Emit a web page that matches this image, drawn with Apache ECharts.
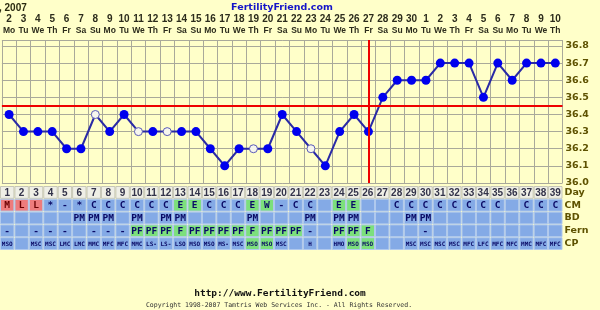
<!DOCTYPE html>
<html><head><meta charset="utf-8">
<script src="https://cdn.jsdelivr.net/npm/echarts@6/dist/echarts.min.js"></script>
<style>html,body{margin:0;padding:0;background:#ffffc9}#c{width:600px;height:310px}</style>
</head><body><div id="c"></div>
<script>
const days = ['1','2','3','4','5','6','7','8','9','10','11','12','13','14','15','16','17','18','19','20','21','22','23','24','25','26','27','28','29','30','31','32','33','34','35','36','37','38','39'];
const dates = ['2','3','4','5','6','7','8','9','10','11','12','13','14','15','16','17','18','19','20','21','22','23','24','25','26','27','28','29','30','1','2','3','4','5','6','7','8','9','10'];
const weekdays = ['Mo','Tu','We','Th','Fr','Sa','Su','Mo','Tu','We','Th','Fr','Sa','Su','Mo','Tu','We','Th','Fr','Sa','Su','Mo','Tu','We','Th','Fr','Sa','Su','Mo','Tu','We','Th','Fr','Sa','Su','Mo','Tu','We','Th'];
const temps = [36.4,36.3,36.3,36.3,36.2,36.2,36.4,36.3,36.4,36.3,36.3,36.3,36.3,36.3,36.2,36.1,36.2,36.2,36.2,36.4,36.3,36.2,36.1,36.3,36.4,36.3,36.5,36.6,36.6,36.6,36.7,36.7,36.7,36.5,36.7,36.6,36.7,36.7,36.7];
const openDays = ['7','10','12','18','22'];
const coverline = 36.45;
const ovulationDay = '26';
const tempTicks = ['36.0','36.1','36.2','36.3','36.4','36.5','36.6','36.7','36.8'];
const rowNames = ['Day','CM','BD','Fern','CP'];
const cm = ['M','L','L','*','-','*','C','C','C','C','C','C','E','E','C','C','C','E','W','-','C','C','','E','E','','','C','C','C','C','C','C','C','C','','C','C','C'];
const bd = ['','','','','','PM','PM','PM','','PM','','PM','PM','','','','','PM','','','','PM','','PM','PM','','','','PM','PM','','','','','','','','',''];
const fern = ['-','','-','-','-','','-','-','-','PF','PF','PF','F','PF','PF','PF','PF','F','PF','PF','PF','-','','PF','PF','F','','','','-','','','','','','','','',''];
const cp = ['MSO','','MSC','MSC','LMC','LMC','MMC','MFC','MFC','MMC','LS-','LS-','LSO','MSO','MSO','MS-','MSC','MSO','MSO','MSC','','H','','HMO','MSO','MSO','','','MSC','MSC','MSC','MSC','MFC','LFC','MFC','MFC','MMC','MFC','MFC'];
const cpHighlight = ['18','19','25','26'];

const rows = [days, cm, bd, fern, cp];
const RED = '#ee7c7c', GREEN = '#7ce07c', BLUE = '#84aae6';
function cellInfo(r, i) {
  const t = rows[r][i];
  let fill = BLUE, stroke = '#b0c9ee', color = '#0a0a66';
  let font = 'bold 9.5px "DejaVu Sans Mono"';
  if (r === 0) { fill = '#efefe6'; stroke = '#c6c6b8'; color = '#33334a'; font = 'bold 10px "Liberation Sans"'; }
  if (r === 1) {
    if (t === 'M' || t === 'L') { fill = RED; color = '#6a0000'; }
    if (t === 'E' || t === 'W') { fill = GREEN; }
  }
  if (r === 3 && (t === 'PF' || t === 'F')) fill = GREEN;
  if (r === 4) { font = 'bold 6px "DejaVu Sans Mono"'; if (cpHighlight.indexOf(days[i]) >= 0) fill = GREEN; }
  return {text: t, fill, stroke, color, font};
}
const cellData = [];
for (let r = 0; r < rows.length; r++) for (let i = 0; i < days.length; i++) cellData.push([i, r]);

const tempData = temps.map((t, i) => openDays.indexOf(days[i]) >= 0
  ? {value: t, symbolSize: 8, itemStyle: {color: '#f6f6ee', borderColor: '#5a5ab8', borderWidth: 1}}
  : t);

const olive = '#5e5200';
const chart = echarts.init(document.getElementById('c'));
chart.setOption({
  backgroundColor: '#ffffc9',
  animation: false,
  title: [
    {text: ', 2007', left: -1, top: 3, padding: 0, textStyle: {fontFamily: 'Liberation Sans', fontWeight: 'bold', fontSize: 10, color: '#2a2a10'}},
    {text: 'FertilityFriend.com', left: 282, textAlign: 'center', top: 3, padding: 0, textStyle: {fontFamily: 'DejaVu Sans', fontWeight: 'bold', fontSize: 9.5, color: '#1414c8'}},
    {text: 'http://www.FertilityFriend.com', left: 280, textAlign: 'center', top: 289, padding: 0, textStyle: {fontFamily: 'DejaVu Sans Mono', fontWeight: 'bold', fontSize: 9.5, color: '#111111'}},
    {text: 'Copyright 1998-2007 Tamtris Web Services Inc. - All Rights Reserved.', left: 279, textAlign: 'center', top: 302, padding: 0, textStyle: {fontFamily: 'DejaVu Sans Mono', fontWeight: 'normal', fontSize: 6.5, color: '#333333'}}
  ],
  grid: [
    {left: -2.5, right: 37.5, top: 40, height: 143},
    {left: -2.5, right: 37.5, top: 186, height: 64}
  ],
  xAxis: [
    {gridIndex: 0, type: 'category', data: days, position: 'top', boundaryGap: true,
     axisLine: {show: false}, axisTick: {show: false},
     splitLine: {show: true, interval: 0, lineStyle: {color: '#a9a99a', width: 1}},
     axisLabel: {interval: 0, margin: 4,
       formatter: (v, i) => '{d|' + dates[i] + '}\n{w|' + weekdays[i] + '}',
       rich: {
         d: {fontFamily: 'Liberation Sans', fontWeight: 'bold', fontSize: 10, color: '#2c2c1c', lineHeight: 11},
         w: {fontFamily: 'Liberation Sans', fontWeight: 'bold', fontSize: 8.5, color: '#2c2c1c', lineHeight: 11}
       }}},
    {gridIndex: 1, type: 'category', data: days, boundaryGap: true, show: false}
  ],
  yAxis: [
    {gridIndex: 0, type: 'value', min: 36.0, max: 36.835, interval: 0.1, position: 'right',
     axisLine: {show: false}, axisTick: {show: false},
     splitLine: {show: true, lineStyle: {color: '#a9a99a', width: 1}},
     axisLabel: {margin: 3, showMaxLabel: false, formatter: v => tempTicks[Math.round((v - 36.0) * 10)] || '',
       fontFamily: 'DejaVu Sans', fontWeight: 'bold', fontSize: 9.5, color: olive}},
    {gridIndex: 1, type: 'category', data: rowNames, inverse: true, position: 'right',
     axisLine: {show: false}, axisTick: {show: false}, splitLine: {show: false},
     axisLabel: {interval: 0, margin: 2, fontFamily: 'DejaVu Sans', fontWeight: 'bold', fontSize: 9.5, color: olive}}
  ],
  series: [
    {type: 'line', xAxisIndex: 0, yAxisIndex: 0, data: [], z: 1, silent: true,
     markLine: {silent: true, symbol: ['none', 'none'], label: {show: false}, animation: false,
       lineStyle: {color: '#ee0000', width: 2, type: 'solid'},
       emphasis: {disabled: true},
       data: [{yAxis: coverline}, {xAxis: ovulationDay}]}},
    {type: 'line', xAxisIndex: 0, yAxisIndex: 0, z: 3, data: tempData, symbol: 'circle', symbolSize: 9,
     lineStyle: {color: '#2a2aa6', width: 2}, itemStyle: {color: '#0000ee'}, emphasis: {disabled: true}},
    {type: 'custom', xAxisIndex: 1, yAxisIndex: 1, data: cellData, silent: true,
     renderItem: function (params, api) {
       const xi = api.value(0), r = api.value(1);
       const c = api.coord([xi, r]);
       const s = api.size([1, 1]);
       const info = cellInfo(r, xi);
       return {type: 'group', children: [
         {type: 'rect', shape: {x: c[0] - s[0] / 2 + 0.5, y: c[1] - s[1] / 2 + 0.5, width: s[0] - 1, height: s[1] - 1},
          style: {fill: info.fill, stroke: info.stroke, lineWidth: 1}},
         {type: 'text', style: {text: info.text, x: c[0], y: c[1] + 0.5, align: 'center', verticalAlign: 'middle', font: info.font, fill: info.color}}
       ]};
     }}
  ]
});
</script></body></html>
